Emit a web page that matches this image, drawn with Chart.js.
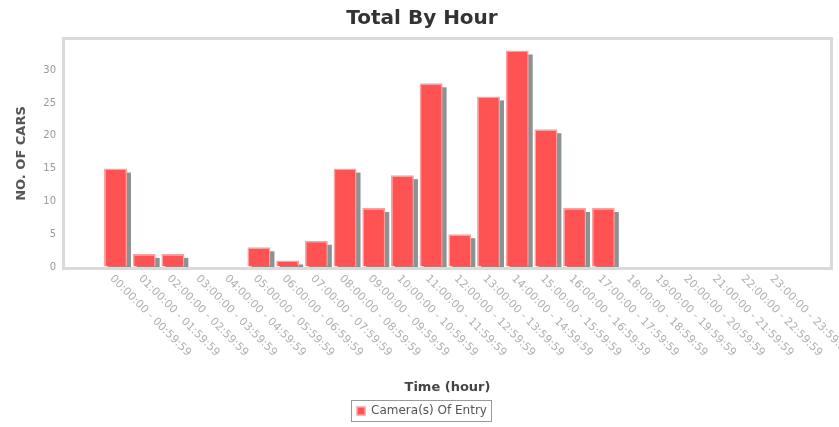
<!DOCTYPE html>
<html>
<head>
<meta charset="utf-8">
<script src="https://cdn.jsdelivr.net/npm/chart.js@4/dist/chart.umd.min.js"></script>
<style>
  html, body { margin: 0; padding: 0; background: #fff; }
  #wrap { width: 839px; height: 427px; }
</style>
</head>
<body>
<div id="wrap"><canvas id="c" width="839" height="427"></canvas></div>
<script>
// ---- data ----
const hourLabels = [
  "00:00:00 - 00:59:59", "01:00:00 - 01:59:59", "02:00:00 - 02:59:59", "03:00:00 - 03:59:59",
  "04:00:00 - 04:59:59", "05:00:00 - 05:59:59", "06:00:00 - 06:59:59", "07:00:00 - 07:59:59",
  "08:00:00 - 08:59:59", "09:00:00 - 09:59:59", "10:00:00 - 10:59:59", "11:00:00 - 11:59:59",
  "12:00:00 - 12:59:59", "13:00:00 - 13:59:59", "14:00:00 - 14:59:59", "15:00:00 - 15:59:59",
  "16:00:00 - 16:59:59", "17:00:00 - 17:59:59", "18:00:00 - 18:59:59", "19:00:00 - 19:59:59",
  "20:00:00 - 20:59:59", "21:00:00 - 21:59:59", "22:00:00 - 22:59:59", "23:00:00 - 23:59:59"
];
const carCounts = [15, 2, 2, 0, 0, 3, 1, 4, 15, 9, 14, 28, 5, 26, 33, 21, 9, 9, 0, 0, 0, 0, 0, 0];
const yTickValues = [0, 5, 10, 15, 20, 25, 30];
const seriesName = "Camera(s) Of Entry";
const chartTitle = "Total By Hour";
const xTitle = "Time (hour)";
const yTitle = "NO. OF CARS";

const FONT = "'DejaVu Sans', sans-serif";

// grey drop shadow behind each bar, drawn from the bar elements' own geometry
const shadowPlugin = {
  id: 'barShadow',
  beforeDatasetsDraw(chart) {
    const { ctx, chartArea: a } = chart;
    const meta = chart.getDatasetMeta(0);
    ctx.save();
    ctx.beginPath();
    ctx.rect(a.left, a.top, a.right - a.left, a.bottom - a.top);
    ctx.clip();
    ctx.fillStyle = 'rgb(138,146,146)';
    meta.data.forEach(bar => {
      const { x, y, base, width } = bar.getProps(['x', 'y', 'base', 'width'], true);
      const h = base - y;
      if (h <= 0.5) return;
      ctx.fillRect(x - width / 2 + 4, y + 4, width, h);
    });
    ctx.restore();
  }
};

const framePlugin = {
  id: 'frame',
  afterDraw(chart) {
    const { ctx, chartArea: a } = chart;
    ctx.save();
    ctx.strokeStyle = '#dadada';
    ctx.lineWidth = 3;
    ctx.strokeRect(a.left - 1.5, a.top - 1.5, a.right - a.left + 3, a.bottom - a.top + 3);
    ctx.restore();
  }
};

const xLabelPlugin = {
  id: 'xLabels',
  afterDraw(chart) {
    const { ctx, chartArea: a } = chart;
    const xs = chart.scales.x;
    ctx.save();
    ctx.font = '11px ' + FONT;
    ctx.fillStyle = '#b0b0b0';
    ctx.textAlign = 'left';
    ctx.textBaseline = 'middle';
    hourLabels.forEach((lab, i) => {
      const px = xs.getPixelForValue(i);
      ctx.save();
      ctx.translate(px - 4, a.bottom + 10);
      ctx.rotate(Math.PI / 4);
      ctx.fillText(lab, 0, 0);
      ctx.restore();
    });
    ctx.restore();
  }
};

const legendBoxPlugin = {
  id: 'legendBox',
  afterDraw(chart) {
    const lg = chart.legend;
    if (!lg || !lg.legendHitBoxes || !lg.legendHitBoxes.length) return;
    const h = lg.legendHitBoxes[0];
    const ctx = chart.ctx;
    ctx.save();
    ctx.strokeStyle = '#9a9a9a';
    ctx.lineWidth = 1;
    ctx.strokeRect(Math.round(h.left) - 5.5, Math.round(h.top) - 4.5, Math.round(h.width) + 10, Math.round(h.height) + 9);
    ctx.restore();
  }
};

new Chart(document.getElementById('c'), {
  type: 'bar',
  data: {
    datasets: [{
      label: seriesName,
      data: carCounts.map((v, i) => ({ x: i, y: v })),
      backgroundColor: '#ff5252',
      borderColor: '#ffa0a0',
      borderWidth: 1.5,
      categoryPercentage: 1,
      barPercentage: 0.8
    }]
  },
  options: {
    responsive: false,
    animation: false,
    events: [],
    layout: { padding: { left: 14, right: 9, top: 0, bottom: 0 } },
    plugins: {
      title: {
        display: true,
        text: chartTitle,
        color: '#333',
        font: { family: FONT, size: 20, weight: 'bold' },
        padding: { top: 7, bottom: 9 }
      },
      legend: {
        display: true,
        position: 'bottom',
        labels: {
          color: '#555',
          font: { family: FONT, size: 12 },
          boxWidth: 8,
          boxHeight: 8,
          padding: 8
        }
      },
      tooltip: { enabled: false }
    },
    scales: {
      x: {
        type: 'linear',
        offset: false,
        min: -1.76,
        max: 24.9,
        grid: { display: false },
        border: { display: false },
        ticks: { display: false },
        afterBuildTicks(scale) {
          scale.ticks = hourLabels.map((_, i) => ({ value: i }));
        },
        afterFit(scale) { scale.height = 130; },
        title: {
          display: true,
          text: xTitle,
          color: '#444',
          font: { family: FONT, size: 13, weight: 'bold' },
          padding: { top: 0, bottom: 2 }
        }
      },
      y: {
        min: 0,
        max: 34.6,
        grid: { drawOnChartArea: false, drawTicks: true, tickLength: 3, color: '#c8c8c8' },
        border: { display: false },
        afterBuildTicks(scale) {
          scale.ticks = yTickValues.map(v => ({ value: v }));
        },
        ticks: {
          color: '#999',
          font: { family: FONT, size: 10 },
          padding: 6
        },
        afterFit(scale) { scale.width = 51; },
        title: {
          display: true,
          text: yTitle,
          color: '#555',
          font: { family: FONT, size: 13, weight: 'bold' },
          padding: { top: 0, bottom: 4 }
        }
      }
    }
  },
  plugins: [shadowPlugin, framePlugin, xLabelPlugin, legendBoxPlugin]
});
</script>
</body>
</html>
